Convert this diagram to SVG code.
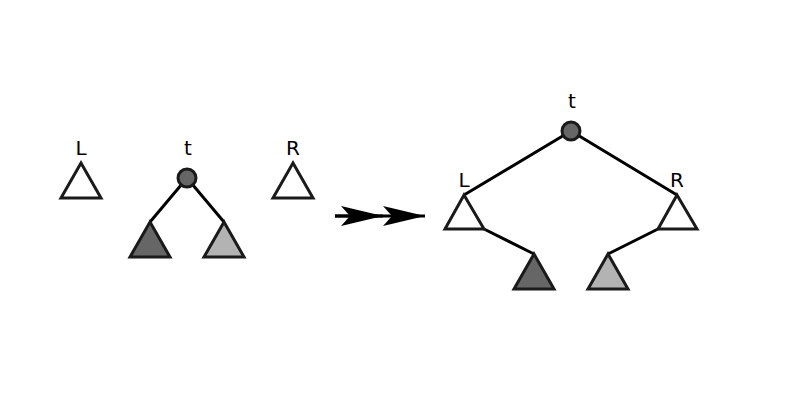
<svg xmlns="http://www.w3.org/2000/svg" width="800" height="400" viewBox="0 0 800 400">
<style>
.s{stroke:#1a1a1a;stroke-width:3;stroke-linejoin:miter}
.w{fill:#fff}.d{fill:#666}.l{fill:#b3b3b3}
.e{fill:none;stroke:#000;stroke-width:3}
text{font-family:"DejaVu Sans",sans-serif;font-size:20px;fill:#000;text-anchor:middle}
</style>
<defs><marker id="a" markerUnits="userSpaceOnUse" markerWidth="44" markerHeight="24" refX="42" refY="12" orient="auto"><path d="M0,2 L42,12 L0,22 L9,12 Z" fill="#000"/></marker></defs>
<rect width="800" height="400" fill="#fff"/>
<g id="connectors">
<path class="e" d="M187,178 L150,222 M187,178 L224,222"/>
<path class="e" d="M571,131 L464,195 M571,131 L677,195 M484,229 L534,254 M658,229 L608,254"/>
<path class="e" d="M335,216 L383,216" marker-end="url(#a)"/>
<path d="M335,216 L425,216" stroke="#000" stroke-width="3" marker-end="url(#a)"/>
</g>
<g id="L1"><text x="81" y="155">L</text><path class="s w" d="M81,163 L101,198 L61,198 Z"/></g>
<g id="t1"><text x="188" y="155">t</text><circle class="s d" cx="187" cy="178" r="9"/></g>
<g id="A1"><path class="s d" d="M150,222 L170,257 L130,257 Z"/></g>
<g id="B1"><path class="s l" d="M224,222 L244,257 L204,257 Z"/></g>
<g id="R1"><text x="293" y="155">R</text><path class="s w" d="M293,163 L313,198 L273,198 Z"/></g>
<g id="t2"><text x="572" y="108">t</text><circle class="s d" cx="571" cy="131" r="9"/></g>
<g id="L2"><text x="464" y="187">L</text><path class="s w" d="M464,195 L484,229 L445,229 Z"/></g>
<g id="R2"><text x="677" y="187">R</text><path class="s w" d="M677,195 L697,229 L658,229 Z"/></g>
<g id="A2"><path class="s d" d="M534,254 L554,289 L514,289 Z"/></g>
<g id="B2"><path class="s l" d="M608,254 L628,289 L588,289 Z"/></g>
</svg>
